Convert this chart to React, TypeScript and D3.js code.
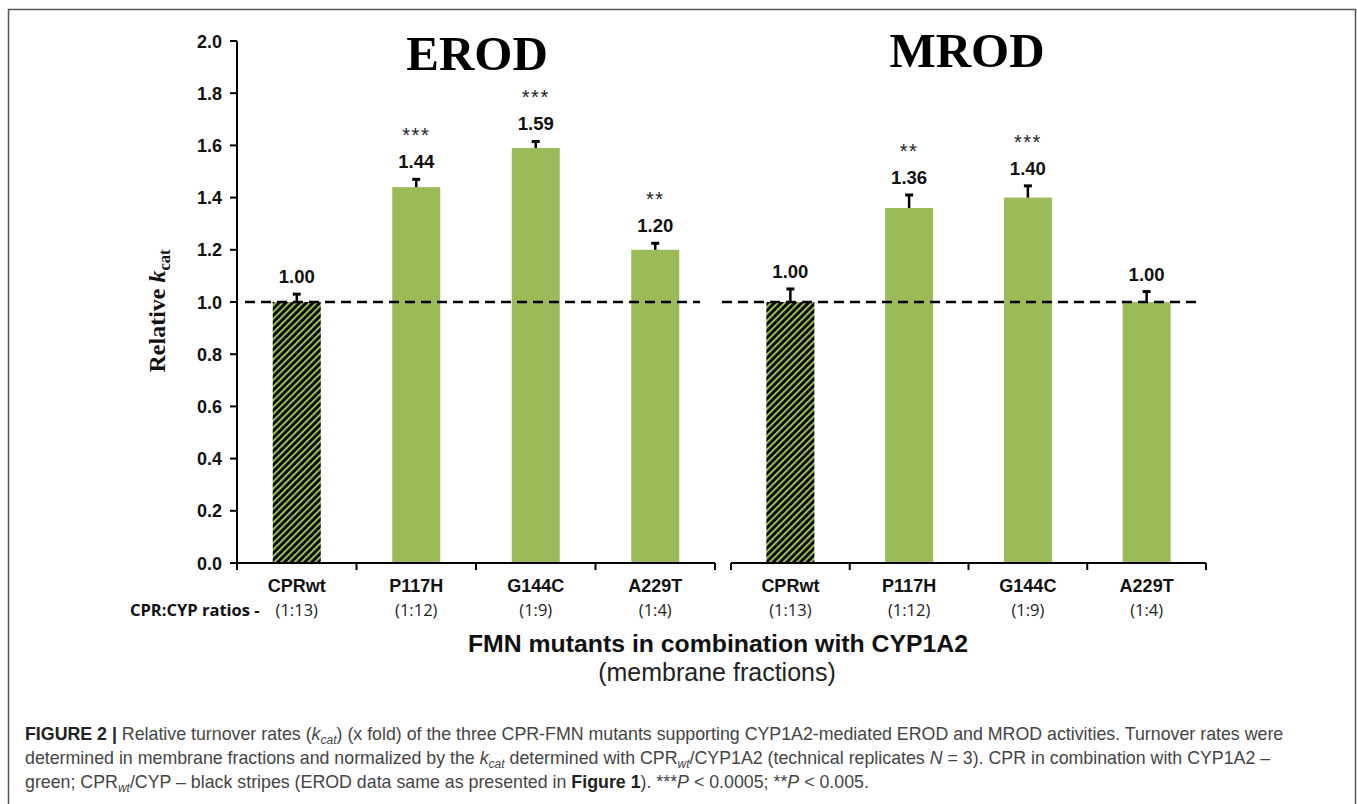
import React from "react";
import * as d3 from "d3";

const categories = ["CPRwt", "P117H", "G144C", "A229T"];
const ratios = ["(1:13)", "(1:12)", "(1:9)", "(1:4)"];
const erodValues = [1.0, 1.44, 1.59, 1.2];
const erodErrors = [0.03, 0.03, 0.025, 0.025];
const erodStars = ["", "***", "***", "**"];
const mrodValues = [1.0, 1.36, 1.4, 1.0];
const mrodErrors = [0.05, 0.05, 0.045, 0.04];
const mrodStars = ["", "**", "***", ""];
const yTicks = [0, 0.2, 0.4, 0.6, 0.8, 1.0, 1.2, 1.4, 1.6, 1.8, 2.0];

const GREEN = "#9BBB59";
const SANS = "Arial, 'Liberation Sans', Helvetica, sans-serif";
const SERIF = "'Times New Roman', 'Liberation Serif', serif";
const OPEN = "'Open Sans', 'Liberation Sans', sans-serif";

const y = d3.scaleLinear().domain([0, 2]).range([563, 41]);
const xL = d3.scaleBand<string>().domain(categories).range([237, 715]);
const xR = d3.scaleBand<string>().domain(categories).range([731, 1206]);

function Panel({ x, values, errors, stars, dashFrom, dashTo }: any) {
  const bw = x.bandwidth();
  const barW = 48;
  const [r0, r1] = x.range();
  return (
    <g>
      {categories.map((c: string, i: number) => {
        const cx = x(c) + bw / 2;
        const top = y(values[i]);
        const errTop = y(values[i] + errors[i]);
        return (
          <g key={c}>
            <rect
              x={cx - barW / 2}
              y={top}
              width={barW}
              height={y(0) - top}
              fill={i === 0 ? "url(#stripes)" : GREEN}
            />
            <line x1={cx} x2={cx} y1={top} y2={errTop} stroke="#000" strokeWidth={2.5} />
            <line x1={cx - 4} x2={cx + 4} y1={errTop} y2={errTop} stroke="#000" strokeWidth={3} />
            <text
              x={cx}
              y={errTop - 11}
              textAnchor="middle"
              fontFamily={SANS}
              fontWeight="bold"
              fontSize={18.5}
              fill="#111"
            >
              {d3.format(".2f")(values[i])}
            </text>
            {stars[i] && (
              <text
                x={cx}
                y={errTop - 37}
                textAnchor="middle"
                fontFamily={SANS}
                fontSize={20}
                letterSpacing={1.5}
                fill="#222"
              >
                {stars[i]}
              </text>
            )}
            <text
              x={cx}
              y={592}
              textAnchor="middle"
              fontFamily={SANS}
              fontWeight="bold"
              fontSize={18}
              fill="#111"
            >
              {c}
            </text>
            <text x={cx} y={616} textAnchor="middle" fontFamily={OPEN} fontSize={16.5} fill="#222">
              {ratios[i]}
            </text>
          </g>
        );
      })}
      <line
        x1={dashFrom}
        x2={dashTo}
        y1={y(1)}
        y2={y(1)}
        stroke="#000"
        strokeWidth={2.5}
        strokeDasharray="10,6"
      />
      <line x1={r0} x2={r1} y1={y(0)} y2={y(0)} stroke="#000" strokeWidth={2} />
      {[r0, ...categories.map((c: string) => x(c) + bw)].map((t: number, i: number) => (
        <line key={i} x1={t} x2={t} y1={y(0)} y2={y(0) + 7} stroke="#000" strokeWidth={2} />
      ))}
    </g>
  );
}

export default function App() {
  const fmt = d3.format(".1f");
  return (
    <svg
      width={1357}
      height={804}
      style={{ position: "absolute", left: 0, top: 0, background: "#fff" }}
    >
      <defs>
        <pattern
          id="stripes"
          patternUnits="userSpaceOnUse"
          width={4.8}
          height={4.8}
          patternTransform="rotate(45)"
        >
          <rect x={0} y={0} width={4.8} height={4.8} fill="#000" />
          <rect x={0} y={0} width={2.1} height={4.8} fill={GREEN} />
        </pattern>
      </defs>
      <rect x={0} y={0} width={1357} height={804} fill="#fff" />
      <rect x={8.5} y={9.5} width={1347} height={900} fill="none" stroke="#555" strokeWidth={1.5} />

      {/* Y axis */}
      <line x1={237} x2={237} y1={y(2)} y2={y(0)} stroke="#000" strokeWidth={2} />
      {yTicks.map((t) => (
        <g key={t}>
          <line x1={230} x2={237} y1={y(t)} y2={y(t)} stroke="#000" strokeWidth={2} />
          <text
            x={222}
            y={y(t) + 6.5}
            textAnchor="end"
            fontFamily={SANS}
            fontWeight="bold"
            fontSize={18}
            fill="#111"
          >
            {fmt(t)}
          </text>
        </g>
      ))}
      <text
        transform="translate(165,311) rotate(-90)"
        textAnchor="middle"
        fontFamily={SERIF}
        fontWeight="bold"
        fontSize={24}
        fill="#111"
      >
        Relative <tspan fontStyle="italic">k</tspan>
        <tspan fontSize={16.5} dy={5}>cat</tspan>
      </text>

      <Panel x={xL} values={erodValues} errors={erodErrors} stars={erodStars} dashFrom={245} dashTo={700} />
      <Panel x={xR} values={mrodValues} errors={mrodErrors} stars={mrodStars} dashFrom={722} dashTo={1197} />

      <text x={477} y={70} textAnchor="middle" fontFamily={SERIF} fontWeight="bold" fontSize={49} fill="#000">
        EROD
      </text>
      <text x={967} y={67} textAnchor="middle" fontFamily={SERIF} fontWeight="bold" fontSize={49} fill="#000">
        MROD
      </text>

      <text x={130} y={616} fontFamily={OPEN} fontWeight="bold" fontSize={16.5} fill="#111">
        CPR:CYP ratios -
      </text>

      <text x={718} y={652} textAnchor="middle" fontFamily={SANS} fontWeight="bold" fontSize={24.8} fill="#111">
        FMN mutants in combination with CYP1A2
      </text>
      <text x={717} y={681} textAnchor="middle" fontFamily={SANS} fontSize={25} fill="#222">
        (membrane fractions)
      </text>

      {/* Caption */}
      <g fontFamily={SANS} fontSize={17.8} fill="#444">
        <text x={25} y={740}>
          <tspan fontWeight="bold" fill="#222">FIGURE 2 |</tspan> Relative turnover rates (
          <tspan fontStyle="italic">k</tspan>
          <tspan fontStyle="italic" fontSize={12} dy={4}>cat</tspan>
          <tspan dy={-4}>) (x fold) of the three CPR-FMN mutants supporting CYP1A2-mediated EROD and MROD activities. Turnover rates were</tspan>
        </text>
        <text x={25} y={764}>
          determined in membrane fractions and normalized by the <tspan fontStyle="italic">k</tspan>
          <tspan fontStyle="italic" fontSize={12} dy={4}>cat</tspan>
          <tspan dy={-4}> determined with CPR</tspan>
          <tspan fontStyle="italic" fontSize={12} dy={4}>wt</tspan>
          <tspan dy={-4}>/CYP1A2 (technical replicates </tspan>
          <tspan fontStyle="italic">N</tspan> = 3). CPR in combination with CYP1A2 –
        </text>
        <text x={25} y={788}>
          green; CPR<tspan fontStyle="italic" fontSize={12} dy={4}>wt</tspan>
          <tspan dy={-4}>/CYP – black stripes (EROD data same as presented in </tspan>
          <tspan fontWeight="bold" fill="#222">Figure 1</tspan>). ***<tspan fontStyle="italic">P</tspan> &lt; 0.0005; **
          <tspan fontStyle="italic">P</tspan> &lt; 0.005.
        </text>
      </g>
    </svg>
  );
}
